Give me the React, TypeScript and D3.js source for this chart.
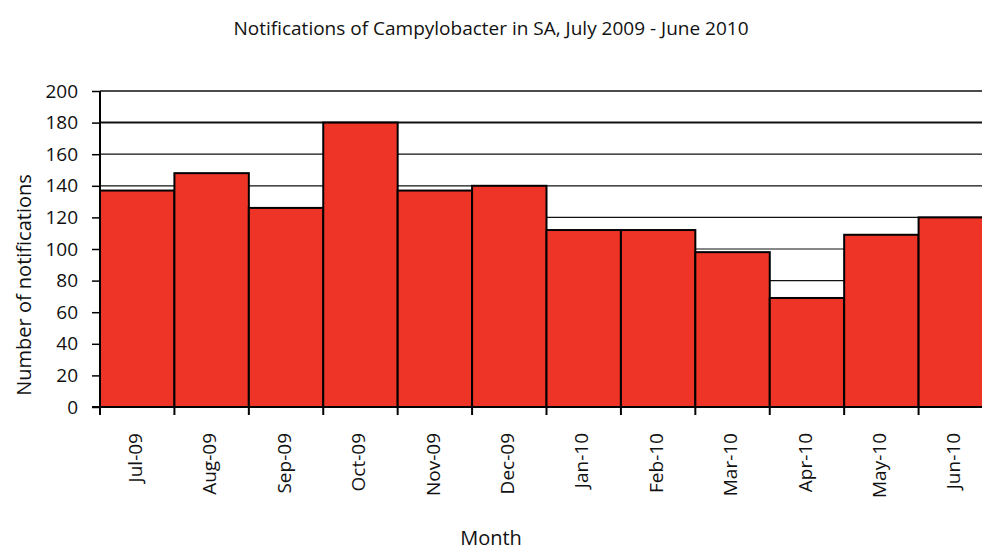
import React, { useEffect, useRef } from 'react';
import * as d3 from 'd3';

const months = ['Jul-09', 'Aug-09', 'Sep-09', 'Oct-09', 'Nov-09', 'Dec-09', 'Jan-10', 'Feb-10', 'Mar-10', 'Apr-10', 'May-10', 'Jun-10'];
const notifications = [137, 148, 126, 180, 137, 140, 112, 112, 98, 69, 109, 120];
const yTicks = [0, 20, 40, 60, 80, 100, 120, 140, 160, 180, 200];

const title = 'Notifications of Campylobacter in SA, July 2009 - June 2010';
const font = '"Open Sans", "Noto Sans", sans-serif';

export default function App() {
  const ref = useRef<SVGSVGElement>(null);

  useEffect(() => {
    if (!ref.current) return;
    const svg = d3.select(ref.current);
    svg.selectAll('*').remove();

    const width = 982;
    const height = 552;
    const margin = { top: 91, right: -11, bottom: 145, left: 100 };

    const x = d3.scaleBand<string>()
      .domain(months)
      .range([margin.left, width - margin.right])
      .padding(0);

    const y = d3.scaleLinear()
      .domain([0, 200])
      .range([height - margin.bottom, margin.top]);

    // gridlines behind the bars
    svg.append('g')
      .selectAll('line')
      .data(yTicks.filter(t => t > 0))
      .enter()
      .append('line')
      .attr('x1', margin.left)
      .attr('x2', width)
      .attr('y1', d => y(d))
      .attr('y2', d => y(d))
      .attr('stroke', '#111')
      .attr('stroke-width', d => (d === 180 ? 2 : d === 200 ? 1.5 : 1.2));

    // bars
    svg.append('g')
      .selectAll('rect')
      .data(months.map((m, i) => ({ m, v: notifications[i] })))
      .enter()
      .append('rect')
      .attr('x', d => x(d.m)!)
      .attr('y', d => y(d.v))
      .attr('width', x.bandwidth())
      .attr('height', d => y(0) - y(d.v))
      .attr('fill', '#ee3426')
      .attr('stroke', '#000')
      .attr('stroke-width', 2);

    // y axis
    const yAxis = d3.axisLeft(y).tickValues(yTicks).tickSize(8).tickPadding(14);
    svg.append('g')
      .attr('transform', `translate(${margin.left},0)`)
      .call(yAxis)
      .call(g => g.select('.domain').attr('stroke', '#000').attr('stroke-width', 2).attr('d', `M0,${y(200)}V${y(0)}`))
      .call(g => g.selectAll('.tick line').attr('stroke', '#000').attr('stroke-width', 1.5))
      .call(g => g.selectAll('.tick text')
        .attr('font-family', font)
        .attr('font-size', 19)
        .attr('fill', '#111'));

    // x axis with ticks at band boundaries
    const boundaries = months.map(m => x(m)!);
    const xg = svg.append('g');
    xg.append('line')
      .attr('x1', margin.left - 8)
      .attr('x2', width)
      .attr('y1', y(0))
      .attr('y2', y(0))
      .attr('stroke', '#000')
      .attr('stroke-width', 2);
    xg.selectAll('.xtick')
      .data(boundaries)
      .enter()
      .append('line')
      .attr('x1', d => d)
      .attr('x2', d => d)
      .attr('y1', y(0))
      .attr('y2', y(0) + 8)
      .attr('stroke', '#000')
      .attr('stroke-width', 2);
    xg.selectAll('.xlabel')
      .data(months)
      .enter()
      .append('text')
      .attr('transform', d => `translate(${x(d)! + x.bandwidth() / 2 - 2},${y(0) + 26}) rotate(-90)`)
      .attr('text-anchor', 'end')
      .attr('dy', '0.35em')
      .attr('font-family', font)
      .attr('font-size', 19)
      .attr('fill', '#111')
      .text(d => d);

    // titles
    svg.append('text')
      .attr('x', 491)
      .attr('y', 35)
      .attr('text-anchor', 'middle')
      .attr('font-family', font)
      .attr('font-size', 19)
      .attr('fill', '#111')
      .text(title);

    svg.append('text')
      .attr('x', 491)
      .attr('y', 545)
      .attr('text-anchor', 'middle')
      .attr('font-family', font)
      .attr('font-size', 20)
      .attr('fill', '#111')
      .text('Month');

    svg.append('text')
      .attr('transform', `translate(31,285) rotate(-90)`)
      .attr('text-anchor', 'middle')
      .attr('font-family', font)
      .attr('font-size', 20)
      .attr('fill', '#111')
      .text('Number of notifications');
  }, []);

  return (
    <svg
      ref={ref}
      width={982}
      height={552}
      style={{ position: 'absolute', left: 0, top: 0, background: '#fff', display: 'block' }}
    />
  );
}
